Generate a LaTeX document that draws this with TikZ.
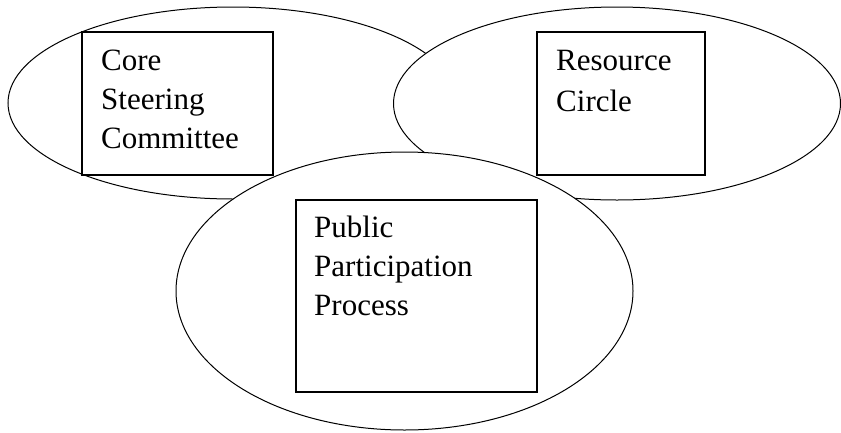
\documentclass[tikz,border=0pt]{standalone}
\usepackage{fontspec}
\setmainfont{Liberation Serif}
\usetikzlibrary{shapes.geometric}
\begin{document}
\begin{tikzpicture}[x=1pt,y=-1pt,
  group/.style={ellipse,draw=black,fill=white,line width=1pt,inner sep=0pt},
  unitbox/.style={rectangle,draw=black,fill=white,line width=1.3pt,inner sep=0pt},
  label text/.style={anchor=north west,inner sep=0pt,align=left,
    font=\fontsize{31}{39}\selectfont}]
\useasboundingbox (0,0) rectangle (841,432);
% left ellipse
\node[group,minimum width=450pt,minimum height=192pt] (e1) at (233,103) {};
% right ellipse
\node[group,minimum width=447pt,minimum height=193pt] (e2) at (617,103.5) {};
% boxes in the upper ellipses
\node[unitbox,minimum width=191pt,minimum height=143pt] (r1) at (177.5,103.5) {};
\node[unitbox,minimum width=168pt,minimum height=143pt] (r2) at (621,103.5) {};
\node[label text] (t1) at (101,49.5) {Core\\Steering\\Committee};
\node[label text,font=\fontsize{31}{41.5}\selectfont] (t2) at (556,49.5) {Resource\\Circle};
% bottom ellipse
\node[group,minimum width=457pt,minimum height=278pt] (e3) at (404.5,291) {};
\node[unitbox,minimum width=241pt,minimum height=192pt] (r3) at (416.5,296) {};
\node[label text] (t3) at (314,216) {Public\\Participation\\Process};
\end{tikzpicture}
\end{document}
